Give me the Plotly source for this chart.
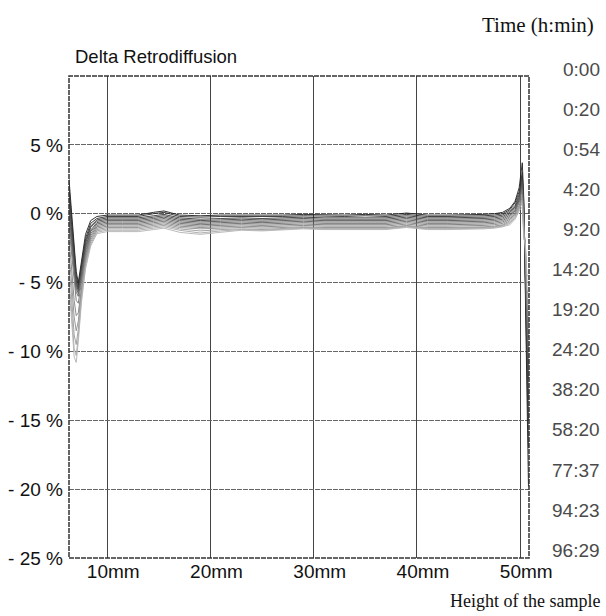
import plotly.graph_objects as go

# Height positions (mm) at which the curves are sampled
height_mm = [6.3, 6.5, 6.8, 7.0, 7.2, 7.5, 7.9, 8.4, 9.0, 10.0,
             11.5, 13, 14.5, 15.5, 17, 19, 21, 23, 25, 27,
             29, 31, 33, 35, 37, 39, 41, 43, 45, 46.5,
             47.5, 48.3, 49.0, 49.5, 49.9, 50.2, 50.35, 50.5, 50.65, 50.8]

times = ["0:00", "0:20", "0:54", "4:20", "9:20", "14:20", "19:20",
         "24:20", "38:20", "58:20", "77:37", "94:23", "96:29"]

d_0000 = [2.5, 0.5, -2.5, -4.2, -5.0, -3.5, -1.5, -0.5, -0.2, -0.1,
          -0.1, -0.1, 0.1, 0.2, -0.1, -0.15, -0.1, -0.1, -0.15, -0.1,
          -0.05, -0.1, -0.1, -0.05, -0.1, 0.05, -0.1, -0.1, -0.1, -0.05,
          0.0, 0.1, 0.4, 0.9, 1.9, 3.7, 1.0, -6, -14, -19.8]
d_0020 = [2.0, 0.2, -2.8, -4.5, -5.2, -3.8, -1.8, -0.7, -0.35, -0.2,
          -0.2, -0.2, 0.0, 0.1, -0.2, -0.25, -0.2, -0.2, -0.25, -0.2,
          -0.15, -0.2, -0.2, -0.15, -0.2, -0.05, -0.2, -0.2, -0.2, -0.15,
          -0.1, 0.0, 0.3, 0.8, 1.6, 3.0, 0.6, -5, -12, -17]
d_0054 = [1.5, -0.2, -3.0, -4.8, -5.4, -4.0, -2.0, -0.9, -0.45, -0.3,
          -0.3, -0.3, -0.15, -0.05, -0.3, -0.4, -0.35, -0.3, -0.35, -0.3,
          -0.25, -0.3, -0.3, -0.25, -0.3, -0.15, -0.3, -0.3, -0.3, -0.25,
          -0.2, -0.1, 0.2, 0.6, 1.4, 2.8, 0.3, -4.5, -10.5, -15]
d_0420 = [1.0, -0.6, -3.3, -5.0, -5.5, -4.2, -2.2, -1.0, -0.55, -0.4,
          -0.4, -0.4, -0.25, -0.15, -0.4, -0.5, -0.45, -0.4, -0.45, -0.4,
          -0.35, -0.4, -0.4, -0.35, -0.4, -0.25, -0.4, -0.4, -0.4, -0.35,
          -0.3, -0.2, 0.1, 0.5, 1.2, 2.5, 0.0, -4, -9.5, -13.5]
d_0920 = [0.5, -1.0, -3.6, -5.2, -5.6, -4.4, -2.4, -1.2, -0.65, -0.5,
          -0.5, -0.5, -0.35, -0.25, -0.5, -0.6, -0.55, -0.5, -0.55, -0.5,
          -0.45, -0.5, -0.5, -0.45, -0.5, -0.35, -0.5, -0.5, -0.5, -0.45,
          -0.4, -0.3, 0.0, 0.4, 1.1, 2.3, -0.2, -3.5, -8.5, -12]
d_1420 = [0.0, -1.5, -4.0, -5.4, -5.8, -4.6, -2.6, -1.3, -0.75, -0.6,
          -0.6, -0.6, -0.45, -0.35, -0.6, -0.7, -0.65, -0.6, -0.65, -0.6,
          -0.55, -0.6, -0.6, -0.55, -0.6, -0.45, -0.6, -0.6, -0.6, -0.55,
          -0.5, -0.4, -0.1, 0.3, 1.0, 2.1, -0.4, -3.2, -8, -11]
d_1920 = [-0.5, -2.0, -4.5, -5.7, -6.0, -4.8, -2.8, -1.45, -0.85, -0.7,
          -0.7, -0.7, -0.55, -0.45, -0.7, -0.8, -0.75, -0.7, -0.75, -0.7,
          -0.65, -0.7, -0.7, -0.65, -0.7, -0.55, -0.7, -0.7, -0.7, -0.65,
          -0.6, -0.5, -0.2, 0.2, 0.9, 1.9, -0.6, -3, -7.5, -10]
d_2420 = [-1.0, -2.6, -5.2, -6.3, -6.5, -5.0, -3.0, -1.6, -0.95, -0.8,
          -0.8, -0.8, -0.65, -0.55, -0.8, -0.9, -0.85, -0.8, -0.85, -0.8,
          -0.75, -0.8, -0.8, -0.75, -0.8, -0.65, -0.8, -0.8, -0.8, -0.75,
          -0.7, -0.6, -0.3, 0.1, 0.8, 1.7, -0.8, -2.8, -7, -9]
d_3820 = [-2.0, -3.5, -6.3, -7.4, -7.2, -5.3, -3.2, -1.75, -1.05, -0.9,
          -0.9, -0.9, -0.75, -0.65, -0.9, -1.0, -0.95, -0.9, -0.95, -0.9,
          -0.85, -0.9, -0.9, -0.85, -0.9, -0.75, -0.9, -0.9, -0.9, -0.85,
          -0.8, -0.7, -0.4, 0.0, 0.6, 1.4, -1.0, -2.6, -6.5, -8]
d_5820 = [-3.0, -4.5, -7.5, -8.5, -7.8, -5.6, -3.4, -1.9, -1.15, -1.0,
          -1.0, -1.0, -0.85, -0.75, -1.0, -1.1, -1.05, -1.0, -1.05, -1.0,
          -0.95, -1.0, -1.0, -0.95, -1.0, -0.85, -1.0, -1.0, -1.0, -0.95,
          -0.9, -0.8, -0.5, -0.1, 0.5, 1.2, -1.2, -2.5, -6, -7]
d_7737 = [-4.0, -5.5, -8.8, -9.5, -8.4, -5.9, -3.6, -2.05, -1.25, -1.1,
          -1.1, -1.1, -0.95, -0.85, -1.1, -1.25, -1.15, -1.1, -1.15, -1.05,
          -1.0, -1.05, -1.05, -1.0, -1.05, -0.9, -1.05, -1.05, -1.05, -1.0,
          -0.95, -0.85, -0.6, -0.2, 0.4, 1.0, -1.4, -2.4, -5.5, -6]
d_9423 = [-5.0, -6.5, -9.8, -10.3, -8.9, -6.2, -3.8, -2.2, -1.35, -1.2,
          -1.2, -1.2, -1.05, -0.95, -1.2, -1.4, -1.25, -1.15, -1.2, -1.1,
          -1.05, -1.1, -1.1, -1.05, -1.1, -0.95, -1.1, -1.1, -1.1, -1.05,
          -1.0, -0.9, -0.7, -0.3, 0.3, 0.8, -1.6, -2.3, -5, -5]
d_9629 = [-5.5, -7.2, -10.4, -10.8, -9.3, -6.5, -4.0, -2.35, -1.45, -1.3,
          -1.3, -1.3, -1.15, -1.05, -1.35, -1.5, -1.35, -1.2, -1.25, -1.15,
          -1.1, -1.15, -1.15, -1.1, -1.15, -1.0, -1.15, -1.15, -1.15, -1.1,
          -1.05, -0.95, -0.8, -0.4, 0.2, 0.5, -1.8, -2.2, -4.5, -4.5]

series = [d_0000, d_0020, d_0054, d_0420, d_0920, d_1420, d_1920,
          d_2420, d_3820, d_5820, d_7737, d_9423, d_9629]

x_ticks = [10, 20, 30, 40, 50]
x_ticktext = ["10mm", "20mm", "30mm", "40mm", "50mm"]
y_ticks = [5, 0, -5, -10, -15, -20, -25]
y_ticktext = ["5 %", "0 %", "- 5 %", "- 10 %", "- 15 %", "- 20 %", "- 25 %"]

colors = ["#1e1e1e", "#2a2a2a", "#363636", "#424242", "#4e4e4e", "#5a5a5a",
          "#666666", "#737373", "#808080", "#8c8c8c", "#999999", "#a6a6a6", "#b2b2b2"]

fig = go.Figure()
for name, vals, col in zip(times, series, colors):
    assert len(vals) == len(height_mm), name
    fig.add_trace(go.Scatter(x=height_mm, y=vals, mode="lines", name=name,
                             line=dict(color=col, width=0.9), showlegend=False))

L, R, T, B = 69, 77, 76, 58
W, H = 606, 616
pw, ph = W - L - R, H - T - B

def px_x(px):
    return (px - L) / pw

def px_y(py):
    return (H - B - py) / ph

font_sans = "Liberation Sans, Arial, sans-serif"
font_serif = "Liberation Serif, Times New Roman, serif"

annotations = []
label_top = 69
label_step = 40.1
for i, t in enumerate(times):
    annotations.append(dict(x=px_x(602), y=px_y(label_top + i * label_step), xref="paper", yref="paper",
                            text=t, showarrow=False, xanchor="right", yanchor="middle",
                            font=dict(family=font_sans, size=19, color="#4a4a4a")))
annotations.append(dict(x=px_x(73), y=px_y(57), xref="paper", yref="paper",
                        text="Delta Retrodiffusion", showarrow=False, xanchor="left", yanchor="middle",
                        font=dict(family=font_sans, size=18.5, color="#111111")))
annotations.append(dict(x=px_x(596), y=px_y(25), xref="paper", yref="paper",
                        text="Time (h:min)", showarrow=False, xanchor="right", yanchor="middle",
                        font=dict(family=font_serif, size=21, color="#111111")))
annotations.append(dict(x=px_x(602), y=px_y(601), xref="paper", yref="paper",
                        text="Height of the sample", showarrow=False, xanchor="right", yanchor="middle",
                        font=dict(family=font_serif, size=18, color="#111111")))

fig.update_layout(
    width=W, height=H,
    margin=dict(l=L, r=R, t=T, b=B, pad=0, autoexpand=False),
    paper_bgcolor="white", plot_bgcolor="white",
    annotations=annotations,
    shapes=[dict(type="rect", xref="paper", yref="paper", x0=0, y0=0, x1=1, y1=1,
                 line=dict(color="#333333", width=1.5, dash="5px,1px"), layer="above")],
)
fig.update_xaxes(range=[6.3, 50.85], tickvals=x_ticks, ticktext=x_ticktext, automargin=False,
                 showgrid=True, gridcolor="#444444", gridwidth=1, zeroline=False,
                 showline=False, ticks="", ticklabelshift=6, ticklabelstandoff=0,
                 tickfont=dict(family=font_sans, size=19, color="#111111"))
fig.update_yaxes(range=[-25, 10], tickvals=y_ticks, ticktext=y_ticktext, automargin=False,
                 showgrid=True, gridcolor="#666666", gridwidth=1, griddash="5px,1px",
                 zeroline=False, showline=False, ticks="", ticklabelstandoff=5,
                 tickfont=dict(family=font_sans, size=19, color="#111111"))

fig.write_html("out.html")
